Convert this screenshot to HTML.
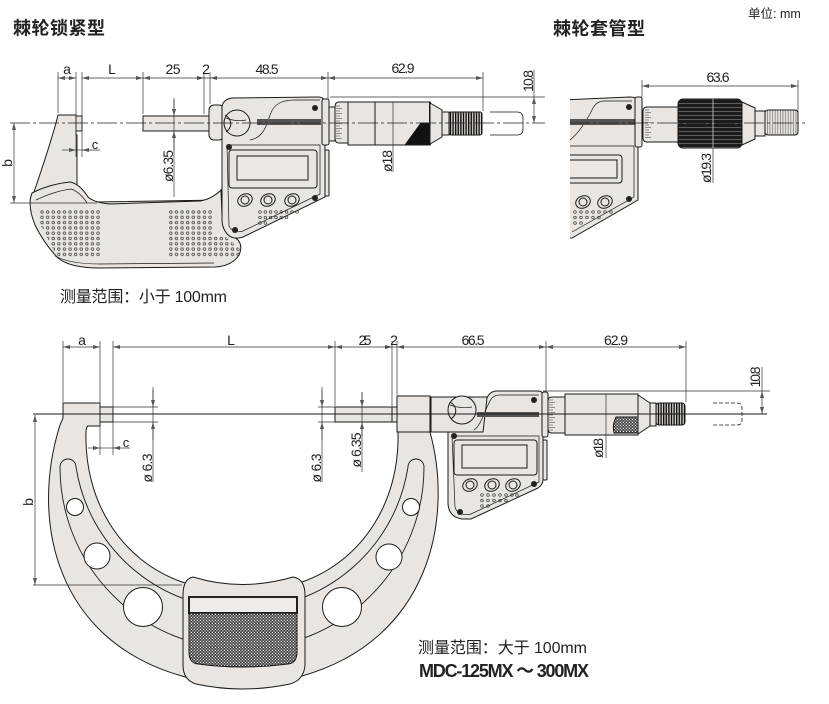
<!DOCTYPE html>
<html><head><meta charset="utf-8">
<style>
html,body{margin:0;padding:0;background:#fff;}
svg{display:block;}
text{font-family:"Liberation Sans","Noto Sans CJK SC",sans-serif;fill:#222;}
</style></head><body>
<svg width="829" height="704" viewBox="0 0 829 704" xmlns="http://www.w3.org/2000/svg">
<defs>
<marker id="ar" viewBox="0 0 7 4" refX="7" refY="2" markerWidth="7" markerHeight="4" markerUnits="userSpaceOnUse" orient="auto-start-reverse"><path d="M0,0L7,2L0,4Z" fill="#555"/></marker>
<pattern id="gd" patternUnits="userSpaceOnUse" x="40" y="210" width="5.6" height="5.3"><circle cx="2" cy="2" r="1.3" fill="none" stroke="#333" stroke-width="0.7"/></pattern>
<pattern id="chk" patternUnits="userSpaceOnUse" width="3" height="3"><rect width="3" height="3" fill="#3a3a3a"/><rect width="1.2" height="1.2" x="0.3" y="0.3" fill="#eee"/><rect width="1.2" height="1.2" x="1.8" y="1.8" fill="#eee"/></pattern>
<pattern id="vl" patternUnits="userSpaceOnUse" width="2.6" height="10"><rect width="2.6" height="10" fill="#d8d5d2"/><rect width="1.4" height="10" fill="#111"/></pattern>
<pattern id="vl2" patternUnits="userSpaceOnUse" width="2.6" height="10"><rect width="2.6" height="10" fill="#e6e2df"/><rect width="0.7" height="10" fill="#777"/></pattern>
<pattern id="hl" patternUnits="userSpaceOnUse" width="10" height="4"><rect width="10" height="4" fill="#1c1c1c"/><rect y="3" width="10" height="0.6" fill="#8a8a8a"/></pattern>
<clipPath id="cr"><rect x="570" y="60" width="259" height="200"/></clipPath>
</defs>

<!-- Titles -->
<text x="13" y="34.5" font-size="18" font-weight="bold" textLength="92">棘轮锁紧型</text>
<text x="553" y="35" font-size="18" font-weight="bold" textLength="92">棘轮套管型</text>
<text x="748" y="18" font-size="12.5" fill="#333">单位: mm</text>

<!-- ================= TOP LEFT MICROMETER ================= -->
<g fill="#e9e5e2" stroke="#1a1a1a" stroke-width="1">
<path d="M58,115 L76,115 L76,135 L77,135 L77,190 L95,202 L220,200 L220,230 L70,240 L45,215 L33,195 C42,168 52,140 58,115 Z"/>
<rect x="76" y="116" width="6" height="15"/>
<path d="M32,193 Q50,184 70,182 Q80,184 88,197 Q95,203 110,204 L200,201 Q212,199 221,190 L222,215 Q226,232 238,240 Q243,246 239,255 Q232,266 215,267 L100,268 Q70,268 58,258 Q45,245 35,225 Q27,205 32,193 Z"/>
<path d="M36,200 Q55,191 71,189 Q80,192 87,203" fill="none" stroke-width="0.7"/>
<path d="M55,256 Q70,264 100,264 L214,263" fill="none" stroke-width="0.7"/>
<polygon points="40,209 101,209 101,257 57,257 40,224" fill="url(#gd)" stroke="none"/>
<polygon points="169,209 212,209 212,236 225,236 241,250 241,257 169,257" fill="url(#gd)" stroke="none"/>
<rect x="143" y="116" width="66" height="15"/>
<rect x="209" y="105" width="15" height="35" rx="5"/>
<path d="M222,140 L222,106 Q224,99 232,98 L318,97 Q325,97 325,104 L325,197 L243,237 Q231,241 225,231 Q222,226 222,220 Z"/>
<path d="M227,145 L320,145 L320,194 L243,231 Q233,234 229,226 Z" fill="none" stroke-width="0.7"/>
<path d="M250,140 C262,138 266,128 270,115 C274,103 283,100 295,100 L320,100" fill="none" stroke-width="0.7"/>
<rect x="257" y="119" width="64" height="6" fill="#555" stroke="none"/>
<circle cx="237" cy="123" r="13"/>
<path d="M225,115 C232,119 233,127 226,132" fill="none"/>
<path d="M226,118 Q236,122 246,120" fill="none" stroke-width="0.7"/>
<rect x="229" y="150" width="88" height="38" rx="3"/>
<rect x="237" y="156" width="71" height="24" fill="#ebe8e5"/>
<ellipse cx="245" cy="200" rx="7.5" ry="6" transform="rotate(-25 245 200)"/>
<circle cx="245" cy="200" r="4"/>
<ellipse cx="268" cy="200" rx="7.5" ry="6" transform="rotate(-25 268 200)"/>
<circle cx="268" cy="200" r="4"/>
<ellipse cx="292" cy="200" rx="7.5" ry="6" transform="rotate(-25 292 200)"/>
<circle cx="292" cy="200" r="4"/>
<rect x="325" y="150" width="4" height="46" rx="1"/>
<rect x="322" y="99" width="7" height="46" rx="2"/>
<rect x="329" y="107" width="6" height="34"/>
<path d="M348,102 L339,102 Q335,102 335,107 L335,138 Q335,143 339,143 L348,143 Z"/>
<rect x="348" y="102" width="82" height="43"/>
<line x1="375" y1="102" x2="375" y2="145"/>
<polygon points="405,145 421,123 430,123 430,145" fill="#111"/>
<line x1="430" y1="102" x2="430" y2="145" stroke-width="2"/>
<polygon points="430,103 442,110 442,137 430,144"/>
<rect x="442" y="112" width="7" height="23"/>
<rect x="449" y="112" width="33" height="23" rx="2" fill="url(#vl)"/>
<path d="M490,112 L517,112 Q523,112 523,118 L523,129 Q523,135 517,135 L490,135" fill="none" stroke-width="0.8"/>
</g>
<path d="M336,106h4M336,108.5h6M336,111h4M336,113.5h6M336,116h4M336,118.5h6M336,121h4M336,123.5h6M336,126h4M336,128.5h6M336,131h4M336,133.5h6M336,136h4M336,138.5h6" stroke="#333" stroke-width="0.6"/>
<g fill="#222">
<circle cx="315" cy="108" r="3"/><circle cx="229" cy="147" r="3"/><circle cx="315" cy="198" r="3"/><circle cx="235" cy="230" r="3"/>
</g>
<g fill="none" stroke="#333" stroke-width="0.7">
<circle cx="260" cy="212" r="1.3"/><circle cx="265.3" cy="212" r="1.3"/><circle cx="270.6" cy="212" r="1.3"/><circle cx="276" cy="212" r="1.3"/><circle cx="281.3" cy="212" r="1.3"/><circle cx="286.6" cy="212" r="1.3"/><circle cx="292" cy="212" r="1.3"/><circle cx="297" cy="212" r="1.3"/>
<circle cx="260" cy="217.5" r="1.3"/><circle cx="265.3" cy="217.5" r="1.3"/><circle cx="270.6" cy="217.5" r="1.3"/><circle cx="276" cy="217.5" r="1.3"/><circle cx="281.3" cy="217.5" r="1.3"/><circle cx="286.6" cy="217.5" r="1.3"/>
<circle cx="260" cy="223" r="1.3"/><circle cx="265.3" cy="223" r="1.3"/>
</g>

<!-- top dims -->
<g stroke="#333" stroke-width="0.7" fill="none">
<line x1="58" y1="78" x2="76" y2="78" marker-start="url(#ar)" marker-end="url(#ar)"/>
<line x1="82" y1="78" x2="143" y2="78" marker-start="url(#ar)" marker-end="url(#ar)"/>
<line x1="143" y1="78" x2="204" y2="78" marker-start="url(#ar)" marker-end="url(#ar)"/>
<line x1="196" y1="78" x2="218" y2="78"/>
<line x1="210" y1="78" x2="328" y2="78" marker-start="url(#ar)" marker-end="url(#ar)"/>
<line x1="328" y1="78" x2="483" y2="78" marker-start="url(#ar)" marker-end="url(#ar)"/>
<line x1="58" y1="72" x2="58" y2="113"/>
<line x1="76" y1="72" x2="76" y2="157"/>
<line x1="82" y1="72" x2="82" y2="157"/>
<line x1="143" y1="72" x2="143" y2="114"/>
<line x1="204" y1="72" x2="204" y2="114"/>
<line x1="210" y1="72" x2="210" y2="104"/>
<line x1="328" y1="72" x2="328" y2="99"/>
<line x1="483" y1="72" x2="483" y2="111"/>
<line x1="62" y1="150" x2="76" y2="150" marker-end="url(#ar)"/>
<line x1="76" y1="150" x2="82" y2="150"/>
<line x1="100" y1="150" x2="82" y2="150" marker-end="url(#ar)"/>
<line x1="534" y1="70" x2="534" y2="97"/>
<line x1="534" y1="97" x2="534" y2="123" marker-start="url(#ar)" marker-end="url(#ar)"/>
<line x1="330" y1="97" x2="545" y2="97"/>
<line x1="174" y1="98" x2="174" y2="197"/>
<line x1="174" y1="100" x2="174" y2="116" marker-end="url(#ar)"/>
<line x1="174" y1="150" x2="174" y2="131" marker-end="url(#ar)"/>
<line x1="393" y1="102" x2="393" y2="172"/>
<line x1="14" y1="123" x2="14" y2="203" marker-start="url(#ar)" marker-end="url(#ar)"/>
<line x1="10" y1="203" x2="97" y2="203"/>
</g>
<line x1="10" y1="123" x2="545" y2="123" stroke="#222" stroke-width="0.8" stroke-dasharray="20 3 3 3"/>
<g font-size="14" text-anchor="middle">
<text x="67" y="74">a</text>
<text x="112" y="74">L</text>
<text x="173" y="74" textLength="15">25</text>
<text x="206" y="74">2</text>
<text x="267" y="74" textLength="23">48.5</text>
<text x="403" y="73" textLength="23">62.9</text>
<text x="95" y="149" font-size="13">c</text>
<text transform="translate(533,81) rotate(-90)" textLength="22">10.8</text>
<text transform="translate(173,166) rotate(-90)" textLength="32">ø6.35</text>
<text transform="translate(392,161) rotate(-90)" textLength="22">ø18</text>
<text transform="translate(12,163) rotate(-90)">b</text>
</g>
<text x="60" y="302" font-size="16" textLength="167">测量范围：小于 100mm</text>

<!-- ================= TOP RIGHT ================= -->
<g clip-path="url(#cr)">
<g fill="#e9e5e2" stroke="#1a1a1a" stroke-width="1">
<path d="M560,100 L630,97 Q638,97 638,104 L638,200 L572,238 L560,238 Z"/>
<path d="M560,146 L634,146 L634,197 L572,232" fill="none" stroke-width="0.7"/>
<path d="M570,140 C580,132 588,118 593,108 Q597,101 604,101 L632,101" fill="none" stroke-width="0.7"/>
<rect x="570" y="119" width="65" height="6" fill="#555" stroke="none"/>
<rect x="556" y="155" width="66" height="28" rx="3"/>
<rect x="556" y="160" width="61" height="18" fill="#ebe8e5"/>
<ellipse cx="583" cy="202" rx="7.5" ry="6" transform="rotate(-25 583 202)"/>
<circle cx="583" cy="202" r="4"/>
<ellipse cx="605" cy="202" rx="7.5" ry="6" transform="rotate(-25 605 202)"/>
<circle cx="605" cy="202" r="4"/>
</g>
<g fill="#222"><circle cx="629" cy="107" r="3"/><circle cx="629" cy="199" r="3"/></g>
<g fill="none" stroke="#333" stroke-width="0.7">
<circle cx="575" cy="212" r="1.3"/><circle cx="581" cy="212" r="1.3"/><circle cx="587" cy="212" r="1.3"/><circle cx="593" cy="212" r="1.3"/><circle cx="599" cy="212" r="1.3"/><circle cx="605" cy="212" r="1.3"/><circle cx="611" cy="212" r="1.3"/>
<circle cx="575" cy="217.5" r="1.3"/><circle cx="581" cy="217.5" r="1.3"/><circle cx="587" cy="217.5" r="1.3"/><circle cx="593" cy="217.5" r="1.3"/><circle cx="599" cy="217.5" r="1.3"/>
<circle cx="575" cy="223" r="1.3"/><circle cx="581" cy="223" r="1.3"/>
</g>
</g>
<g fill="#e9e5e2" stroke="#1a1a1a" stroke-width="1">
<rect x="635" y="97" width="7" height="50" rx="2"/>
<path d="M678,107 L647,107 Q643,107 643,111 L643,138 Q643,142 647,142 L678,142 Z"/>
<rect x="678" y="99" width="64" height="49" rx="5" fill="url(#hl)"/>
<polygon points="742,102 755,108 755,139 742,145"/>
<rect x="755" y="111" width="10" height="25"/>
<rect x="765" y="110" width="33" height="25" rx="3" fill="url(#vl2)"/>
</g>
<path d="M645,110h4M645,112.5h6M645,115h4M645,117.5h6M645,120h4M645,122.5h6M645,125h4M645,127.5h6M645,130h4M645,132.5h6M645,135h4M645,137.5h6" stroke="#333" stroke-width="0.6"/>
<line x1="713" y1="99" x2="713" y2="148" stroke="#ccc" stroke-width="0.8"/>
<g stroke="#333" stroke-width="0.7" fill="none">
<line x1="713" y1="148" x2="713" y2="183"/>
<line x1="642" y1="86" x2="798" y2="86" marker-start="url(#ar)" marker-end="url(#ar)"/>
<line x1="642" y1="80" x2="642" y2="97"/>
<line x1="798" y1="80" x2="798" y2="123"/>
</g>
<line x1="570" y1="123" x2="805" y2="123" stroke="#222" stroke-width="0.8" stroke-dasharray="20 3 3 3"/>
<text x="718" y="82" font-size="14" text-anchor="middle" textLength="23">63.6</text>
<text transform="translate(711,168) rotate(-90)" font-size="14" text-anchor="middle" textLength="30">ø19.3</text>

<!-- ================= BOTTOM MICROMETER ================= -->
<g fill="#e9e5e2" stroke="#1a1a1a" stroke-width="1">
<path d="M63,403 L100,403 L100,426 L88,426 Q86,427 86,432 C84,500 120,560 182,582 Q242,600 302,582 C364,560 400,500 398,432 L397,398 L430,398 L430,432 C454,520 429,640 302,676 Q242,695 182,676 C55,640 30,520 60,425 L63,418 Z"/>
<path d="M60,467 A8,8 0 0 1 76,467 A168,168 0 0 0 408,467 A8,8 0 0 1 424,467 A182,182 0 1 1 60,467 Z" stroke-width="0.9"/>
<g fill="#fff">
<circle cx="75" cy="507" r="8.5"/><circle cx="97" cy="556" r="13"/><circle cx="143" cy="607" r="19.5"/>
<circle cx="411" cy="507" r="8.5"/><circle cx="389" cy="557" r="13"/><circle cx="342" cy="607" r="19.5"/>
</g>
<path d="M193,577 Q242,592 293,577 Q305,579 305,595 L305,665 Q304,680 290,684 Q242,694 196,684 Q183,680 183,665 L183,595 Q183,579 193,577 Z"/>
<rect x="189" y="597" width="108" height="16" fill="#eeecea" stroke="#222" stroke-width="2"/>
<path d="M189,613 L297,613 L297,652 Q297,663 288,664 Q242,670 198,664 Q189,663 189,652 Z" fill="url(#chk)"/>
<rect x="100" y="407" width="13" height="15"/>
<rect x="335" y="407" width="62" height="15"/>
<line x1="392" y1="407" x2="392" y2="422"/>
<rect x="397" y="396" width="33" height="36"/>
<rect x="431" y="397" width="60" height="35"/>
<path d="M448,432 L448,504 Q449,517 462,519 L471,519 L538,488 Q543,485 543,479 L543,396 Q543,391 538,391 L497,391 Q490,391 487,398 L483,432 Z"/>
<path d="M452,436 L539,436 L539,482 L471,514 Q458,517 455,507 Z" fill="none" stroke-width="0.7"/>
<path d="M474,430 C482,425 486,405 492,398 Q495,395 500,395 L539,395" fill="none" stroke-width="0.7"/>
<rect x="477" y="412" width="62" height="5" fill="#555" stroke="none"/>
<circle cx="462" cy="410" r="14"/>
<path d="M450,402 C457,406 458,414 451,419" fill="none"/>
<path d="M450,405 Q461,409 472,407" fill="none" stroke-width="0.7"/>
<rect x="454" y="440" width="83" height="35" rx="3"/>
<rect x="462" y="445" width="65" height="23" fill="#ebe8e5"/>
<ellipse cx="470" cy="485" rx="7.5" ry="6" transform="rotate(-25 470 485)"/>
<circle cx="470" cy="485" r="4"/>
<ellipse cx="492" cy="485" rx="7.5" ry="6" transform="rotate(-25 492 485)"/>
<circle cx="492" cy="485" r="4"/>
<ellipse cx="513" cy="485" rx="7.5" ry="6" transform="rotate(-25 513 485)"/>
<circle cx="513" cy="485" r="4"/>
<rect x="543" y="440" width="4" height="40" rx="1"/>
<rect x="542" y="392" width="6" height="45" rx="2"/>
<path d="M565,397 L552,397 Q548,397 548,401 L548,429 Q548,433 552,433 L565,433 Z"/>
<rect x="565" y="394" width="73" height="41"/>
<path d="M616,417 L638,417 L638,433 L614,433 Q612,425 616,417 Z" fill="url(#chk)"/>
<polygon points="638,395 650,403 650,426 638,434"/>
<rect x="650" y="403" width="6" height="23"/>
<rect x="656" y="403" width="29" height="22" rx="3" fill="url(#vl)"/>
<path d="M713,403 L737,403 Q742,403 742,408 L742,420 Q742,425 737,425 L713,425" fill="none" stroke-width="0.8" stroke-dasharray="4 2"/>
</g>
<path d="M549,400h4M549,402.5h6M549,405h4M549,407.5h6M549,410h4M549,412.5h6M549,415h4M549,417.5h6M549,420h4M549,422.5h6M549,425h4M549,427.5h6M549,430h4" stroke="#333" stroke-width="0.6"/>
<g fill="#222">
<circle cx="534" cy="400" r="3"/><circle cx="454" cy="436" r="3"/><circle cx="534" cy="484" r="3"/><circle cx="460" cy="512" r="3"/>
</g>
<g fill="none" stroke="#333" stroke-width="0.7">
<circle cx="482" cy="495" r="1.3"/><circle cx="488" cy="495" r="1.3"/><circle cx="494" cy="495" r="1.3"/><circle cx="500" cy="495" r="1.3"/><circle cx="506" cy="495" r="1.3"/><circle cx="512" cy="495" r="1.3"/><circle cx="517" cy="495" r="1.3"/>
<circle cx="482" cy="500.5" r="1.3"/><circle cx="488" cy="500.5" r="1.3"/><circle cx="494" cy="500.5" r="1.3"/><circle cx="500" cy="500.5" r="1.3"/><circle cx="506" cy="500.5" r="1.3"/>
<circle cx="482" cy="506" r="1.3"/><circle cx="488" cy="506" r="1.3"/>
</g>

<!-- bottom dims -->
<g stroke="#333" stroke-width="0.7" fill="none">
<line x1="63" y1="347" x2="100" y2="347" marker-start="url(#ar)" marker-end="url(#ar)"/>
<line x1="113" y1="347" x2="335" y2="347" marker-start="url(#ar)" marker-end="url(#ar)"/>
<line x1="335" y1="347" x2="392" y2="347" marker-start="url(#ar)" marker-end="url(#ar)"/>
<line x1="385" y1="347" x2="404" y2="347"/>
<line x1="397" y1="347" x2="546" y2="347" marker-start="url(#ar)" marker-end="url(#ar)"/>
<line x1="546" y1="347" x2="686" y2="347" marker-start="url(#ar)" marker-end="url(#ar)"/>
<line x1="63" y1="341" x2="63" y2="402"/>
<line x1="100" y1="341" x2="100" y2="455"/>
<line x1="113" y1="341" x2="113" y2="455"/>
<line x1="335" y1="341" x2="335" y2="406"/>
<line x1="392" y1="341" x2="392" y2="406"/>
<line x1="397" y1="341" x2="397" y2="395"/>
<line x1="546" y1="341" x2="546" y2="391"/>
<line x1="686" y1="341" x2="686" y2="402"/>
<line x1="88" y1="448" x2="100" y2="448" marker-end="url(#ar)"/>
<line x1="100" y1="448" x2="113" y2="448"/>
<line x1="130" y1="448" x2="113" y2="448" marker-end="url(#ar)"/>
<line x1="113" y1="407" x2="158" y2="407"/>
<line x1="113" y1="422" x2="158" y2="422"/>
<line x1="153" y1="387" x2="153" y2="482"/>
<line x1="153" y1="390" x2="153" y2="407" marker-end="url(#ar)"/>
<line x1="153" y1="440" x2="153" y2="422" marker-end="url(#ar)"/>
<line x1="318" y1="407" x2="335" y2="407"/>
<line x1="318" y1="422" x2="335" y2="422"/>
<line x1="322" y1="387" x2="322" y2="482"/>
<line x1="322" y1="390" x2="322" y2="407" marker-end="url(#ar)"/>
<line x1="322" y1="440" x2="322" y2="422" marker-end="url(#ar)"/>
<line x1="362" y1="392" x2="362" y2="472"/>
<line x1="362" y1="393" x2="362" y2="407" marker-end="url(#ar)"/>
<line x1="362" y1="436" x2="362" y2="422" marker-end="url(#ar)"/>
<line x1="606" y1="435" x2="606" y2="458"/>
<line x1="762" y1="367" x2="762" y2="391"/>
<line x1="762" y1="391" x2="762" y2="414" marker-start="url(#ar)" marker-end="url(#ar)"/>
<line x1="543" y1="391" x2="770" y2="391"/>
<line x1="35" y1="415" x2="35" y2="585" marker-start="url(#ar)" marker-end="url(#ar)"/>
<line x1="33" y1="585" x2="182" y2="585"/>
</g>
<line x1="606" y1="394" x2="606" y2="435" stroke="#333" stroke-width="0.7"/>
<line x1="33" y1="414" x2="767" y2="414" stroke="#1a1a1a" stroke-width="0.9"/>
<g font-size="14" text-anchor="middle">
<text x="82" y="345">a</text>
<text x="231" y="345">L</text>
<text x="365" y="345" textLength="13">25</text>
<text x="394" y="345">2</text>
<text x="473" y="345" textLength="23">66.5</text>
<text x="616" y="345" textLength="24">62.9</text>
<text x="126" y="447" font-size="13">c</text>
<text transform="translate(33,502) rotate(-90)">b</text>
<text transform="translate(760,377) rotate(-90)" textLength="21">10.8</text>
<text transform="translate(152,468) rotate(-90)" textLength="29">ø 6.3</text>
<text transform="translate(321,468) rotate(-90)" textLength="29">ø 6.3</text>
<text transform="translate(361,450) rotate(-90)" textLength="35">ø 6.35</text>
<text transform="translate(603,448) rotate(-90)" textLength="20">ø18</text>
</g>
<text x="418" y="653" font-size="16" textLength="169">测量范围：大于 100mm</text>
<text x="419" y="677" font-size="18" font-weight="bold" textLength="170">MDC-125MX ～ 300MX</text>
</svg>
</body></html>
